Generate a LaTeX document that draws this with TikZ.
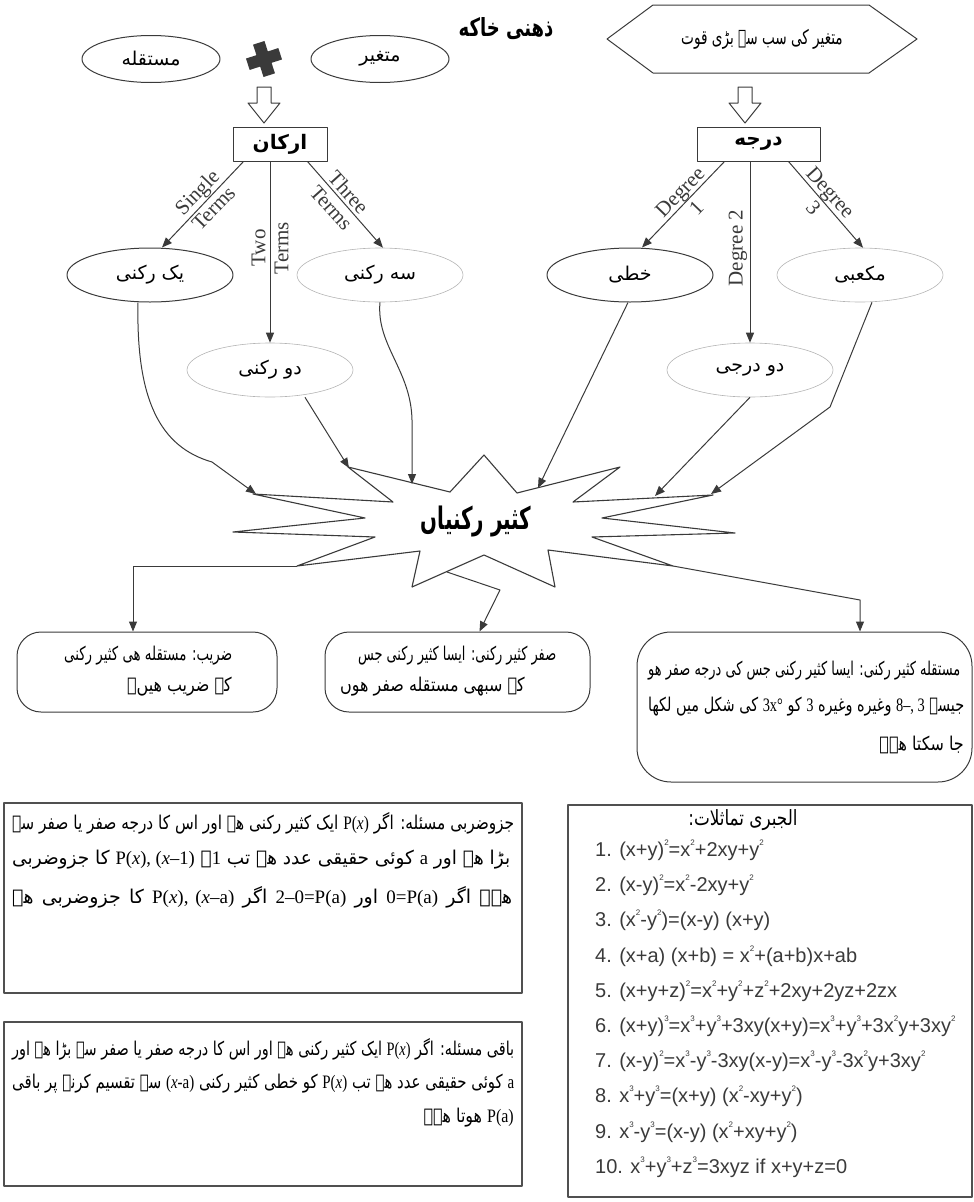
\documentclass[tikz,border=0pt]{standalone}
\usepackage{graphicx}
\usepackage{fontspec}
\setmainfont{Liberation Serif}
\newfontfamily\urdu[Script=Arabic]{DejaVu Sans}
\newfontfamily\arialf{Liberation Sans}
\TeXXeTstate=1
\usetikzlibrary{arrows.meta,shapes.geometric}
\definecolor{ln}{HTML}{3A3A3A}
\definecolor{lg}{HTML}{B4B4B4}
\definecolor{bx}{HTML}{505050}
\newcommand\uf[1]{\urdu\fontsize{#1}{#1}\selectfont}
\newcommand\rtl[1]{\beginR #1\endR}
\newcommand\lt[1]{{\rmfamily\beginL #1\endL}}
\newcommand\su[1]{\raisebox{0.55em}{\fontsize{8}{8}\selectfont #1}}
\newsavebox\lbox
\newcommand\jline[2]{\sbox\lbox{#2}\ifdim\wd\lbox>#1\relax\resizebox{#1}{\height}{\usebox\lbox}\else\makebox[#1][s]{#2}\fi}
\newcommand\sq[1]{\scalebox{0.84}[1]{#1}}
\begin{document}
\begin{tikzpicture}[x=1pt,y=-1pt,line join=round,
  darkell/.style={ellipse,draw=ln,line width=1pt,inner sep=0pt,minimum width=166pt,minimum height=54pt,font=\uf{19}},
  lightell/.style={ellipse,draw=lg,line width=0.6pt,inner sep=0pt,minimum width=166pt,minimum height=54pt,font=\uf{19}},
  arr/.style={draw=ln,line width=1pt,-{Triangle[length=10pt,width=8pt]}},
  lab/.style={font=\fontsize{21}{23}\selectfont,align=center,inner sep=0pt,text=ln},
  rbox/.style={draw=ln,line width=1pt,rounded corners=24pt,inner sep=0pt},
  sqbox/.style={draw=bx,line width=1.6pt,inner sep=0pt},
  ut/.style={font=\uf{19},inner sep=0pt,text=black},
  eq/.style={font=\arialf\fontsize{20}{22}\selectfont,anchor=west,inner sep=0pt,text=ln},
  hollow/.style={draw=ln,line width=1pt,fill=white}]
\useasboundingbox (0,0) rectangle (974,1202);

% ---------- title ----------
\node[font=\uf{25}\bfseries,inner sep=0pt] (title) at (506,29) {\scalebox{0.72}[1]{\rtl{ذهنی خاکه}}};

% ---------- top left ----------
\node[darkell,minimum width=138pt,minimum height=47pt] (mus) at (151,59) {\rtl{مستقله}};
\node[darkell,minimum width=138pt,minimum height=47pt] (mut) at (380,59) {\rtl{متغیر}};
\fill[ln,rotate around={18:(264,59)}] (258,42) -- (270,42) -- (270,53) -- (281,53) -- (281,65) -- (270,65) -- (270,76) -- (258,76) -- (258,65) -- (247,65) -- (247,53) -- (258,53) -- cycle;
\draw[hollow] (257,87) -- (271,87) -- (271,103) -- (280,103) -- (264,123) -- (248,103) -- (257,103) -- cycle;
\node[draw=ln,line width=1pt,minimum width=94pt,minimum height=34pt,inner sep=0pt,font=\uf{20}\bfseries] (ark) at (280,144) {\rtl{ارکان}};

% ---------- top right ----------
\draw[ln,line width=1pt] (607,39) -- (653,5) -- (869,5) -- (917,39) -- (869,73) -- (653,73) -- cycle;
\node[font=\uf{20},inner sep=0pt] (qwt) at (762,39) {\scalebox{0.68}[1]{\rtl{متغیر کی سب سے بڑی قوت}}};
\draw[hollow] (738,87) -- (752,87) -- (752,103) -- (761,103) -- (745,123) -- (729,103) -- (738,103) -- cycle;
\node[draw=ln,line width=1pt,minimum width=123pt,minimum height=34pt,inner sep=0pt,font=\uf{20}\bfseries] (dj) at (758.5,144) {\rtl{درجه}};

% ---------- second level ellipses ----------
\node[darkell] (yek) at (150,275) {\rtl{یک رکنی}};
\node[lightell] (seh) at (380,275) {\rtl{سه رکنی}};
\node[lightell] (do) at (270,370) {\rtl{دو رکنی}};
\node[darkell] (kh) at (630,275) {\rtl{خطی}};
\node[lightell] (mk) at (860,275) {\rtl{مکعبی}};
\node[lightell] (dd) at (750,370) {\rtl{دو درجی}};

% arrows from rectangles
\draw[arr] ([xshift=11pt]ark.south west) -- ([xshift=12pt]yek.north);
\draw[arr] (do.north |- ark.south) -- (do.north);
\draw[arr] ([xshift=-20pt]ark.south east) -- ([xshift=3pt]seh.north);
\draw[arr] ([xshift=28pt]dj.south west) -- ([xshift=12pt]kh.north);
\draw[arr] (dd.north |- dj.south) -- (dd.north);
\draw[arr] ([xshift=-32pt]dj.south east) -- ([xshift=3pt]mk.north);

\node[lab,rotate=46] (l1) at (205,200) {Single\\Terms};
\node[lab,rotate=90] (l2) at (270,248) {Two\\Terms};
\node[lab,rotate=-48] (l3) at (340,200) {Three\\Terms};
\node[lab,rotate=46] (l4) at (688,200) {Degree\\1};
\node[lab,rotate=90] (l5) at (738,248) {Degree 2};
\node[lab,rotate=-48] (l6) at (822,200) {Degree\\3};

% ---------- star ----------
\draw[ln,line width=1.1pt,fill=white] (484,455) -- (517,493) -- (620,467) -- (573,502) -- (713,495) -- (602,518)
  -- (735,533) -- (592,537) -- (673,566) -- (548,550) -- (555,587) -- (484,555) -- (412,587) -- (420,551)
  -- (297,566) -- (375,537) -- (233,532) -- (365,518) -- (253,494) -- (393,502) -- (348,467) -- (450,492) -- cycle;
\node[font=\uf{31}\bfseries,inner sep=0pt] (poly) at (476,522) {\scalebox{0.64}[1]{\rtl{کثیر رکنیاں}}};
\coordinate (t1) at (256,494);
\coordinate (t2) at (349,468);
\coordinate (t3) at (412,484);
\coordinate (t4) at (538,488);
\coordinate (t5) at (655,496);
\coordinate (t6) at (711,494);
\coordinate (o1) at (297,566);
\coordinate (o2) at (447,572);
\coordinate (o3) at (673,566);

\draw[arr] ([xshift=-12pt]yek.south) .. controls (136,400) and (160,447) .. (212,462) -- (t1);
\draw[arr] ([xshift=35pt]do.south) -- (t2);
\draw[arr] (seh.south) .. controls (376,345) and (411,370) .. (412,420) -- (t3);
\draw[arr] ([xshift=-2pt]kh.south) -- (t4);
\draw[arr] (dd.south) -- (t5);
\draw[arr] ([xshift=12pt]mk.south) -- (830,407) -- (t6);

% ---------- definition boxes ----------
\node[rbox,minimum width=260pt,minimum height=80pt] (bl) at (147,672) {};
\node[rbox,minimum width=265pt,minimum height=80pt] (bm) at (457.5,672) {};
\node[rbox,rounded corners=34pt,minimum width=335pt,minimum height=150pt] (brx) at (804.5,707) {};

\draw[arr] (o1) -| ([xshift=-14pt]bl.north);
\draw[arr] (o2) -- (500,590) -- ([xshift=22pt]bm.north);
\draw[arr] (o3) -- (860,600) -- ([xshift=55.5pt]brx.north);

\node[ut,anchor=west] (bl1) at (64,656) {\jline{168pt}{\rtl{ضریب: مستقله هی کثیر رکنی}}};
\node[ut,anchor=east] (bl2) at (232,687) {\sq{\rtl{کے ضریب هیں۔}}};
\node[ut,anchor=west] (bm1) at (358,656) {\jline{198pt}{\rtl{صفر کثیر رکنی: ایسا کثیر رکنی جس}}};
\node[ut,anchor=east] (bm2) at (525,687) {\sq{\rtl{کے سبھی مستقله صفر هوں}}};
\node[ut,anchor=west] (br1) at (648,671) {\jline{312pt}{\rtl{مستقله کثیر رکنی: ایسا کثیر رکنی جس کی درجه صفر هو}}};
\node[ut,anchor=west] (br2) at (648,707) {\jline{316pt}{\rtl{جیسے \lt{8–, 3} وغیره وغیره \lt{3} کو \lt{3x°} کی شکل میں لکھا}}};
\node[ut,anchor=east] (br3) at (964,745) {\sq{\rtl{جا سکتا هے۔}}};

% ---------- theorem boxes ----------
\node[sqbox,minimum width=518pt,minimum height=190pt] (b1) at (263,898) {};
\node[ut,anchor=west] (b11) at (12,823) {\jline{502pt}{\rtl{جزوضربی مسئله: اگر \lt{P(\textit{x})} ایک کثیر رکنی هے اور اس کا درجه صفر یا صفر سے}}};
\node[ut,anchor=west] (b12) at (12,860) {\jline{498pt}{\rtl{بڑا هے اور \lt{a} کوئی حقیقی عدد هے تب \lt{1}۔ \lt{P(\textit{x}), (\textit{x}–1)} کا جزوضربی}}};
\node[ut,anchor=west] (b13) at (12,897) {\jline{500pt}{\rtl{هے۔ اگر \lt{0=P(a)} اور \lt{2–0=P(a)} اگر \lt{P(\textit{x}), (\textit{x}–a)} کا جزوضربی هے}}};

\node[sqbox,minimum width=518pt,minimum height=164pt] (b2) at (263,1104) {};
\node[ut,anchor=west] (b21) at (12,1049) {\jline{502pt}{\rtl{باقی مسئله: اگر \lt{P(\textit{x})} ایک کثیر رکنی هے اور اس کا درجه صفر یا صفر سے بڑا هے اور}}};
\node[ut,anchor=west] (b22) at (12,1084) {\jline{502pt}{\rtl{\lt{a} کوئی حقیقی عدد هے تب \lt{P(\textit{x})} کو خطی کثیر رکنی \lt{(\textit{x}-a)} سے تقسیم کرنے پر باقی}}};
\node[ut,anchor=east] (b23) at (514,1118) {\sq{\rtl{\lt{P(a)} هوتا هے۔}}};

\node[sqbox,minimum width=404pt,minimum height=392pt] (b3) at (770,1001) {};
\node[font=\uf{21},inner sep=0pt] (b3t) at (743,820) {\scalebox{0.8}[1]{\rtl{الجبری تماثلات:}}};
\node[eq] (e1) at (595,850) {1. (x+y)\su{2}=x\su{2}+2xy+y\su{2}};
\node[eq] (e2) at (595,885) {2. (x-y)\su{2}=x\su{2}-2xy+y\su{2}};
\node[eq] (e3) at (595,920) {3. (x\su{2}-y\su{2})=(x-y) (x+y)};
\node[eq] (e4) at (595,956) {4. (x+a) (x+b) = x\su{2}+(a+b)x+ab};
\node[eq] (e5) at (595,991) {5. (x+y+z)\su{2}=x\su{2}+y\su{2}+z\su{2}+2xy+2yz+2zx};
\node[eq] (e6) at (595,1026) {6. (x+y)\su{3}=x\su{3}+y\su{3}+3xy(x+y)=x\su{3}+y\su{3}+3x\su{2}y+3xy\su{2}};
\node[eq] (e7) at (595,1061) {7. (x-y)\su{2}=x\su{3}-y\su{3}-3xy(x-y)=x\su{3}-y\su{3}-3x\su{2}y+3xy\su{2}};
\node[eq] (e8) at (595,1096) {8. x\su{3}+y\su{3}=(x+y) (x\su{2}-xy+y\su{2})};
\node[eq] (e9) at (595,1132) {9. x\su{3}-y\su{3}=(x-y) (x\su{2}+xy+y\su{2})};
\node[eq] (e10) at (595,1167) {10. x\su{3}+y\su{3}+z\su{3}=3xyz if x+y+z=0};
\end{tikzpicture}
\end{document}
